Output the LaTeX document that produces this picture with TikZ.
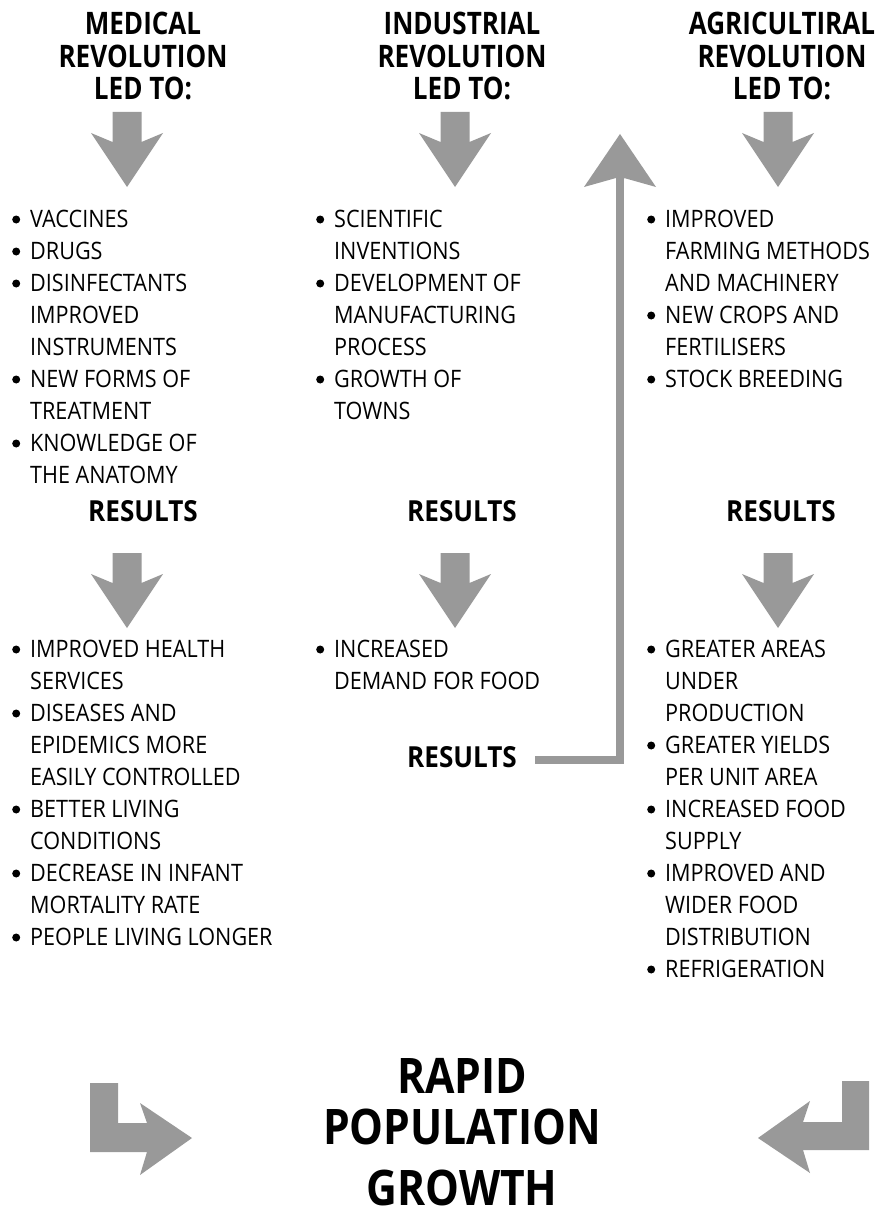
\documentclass[tikz,border=0pt]{standalone}
\usepackage{fontspec}
\setmainfont{Open Sans}
\newfontfamily\bodyfont{Open Sans}[FakeStretch=0.9]
\newfontfamily\headfont{Open Sans}[FakeStretch=0.84]
\newfontfamily\bigfont{Open Sans}[FakeStretch=0.87]
\definecolor{arrowgray}{HTML}{999999}
\newcommand\bul{\makebox[18pt][l]{\tikz[baseline=0pt,x=1pt,y=1pt]\fill[black] (4,7.5) circle[radius=4];}}
\newcommand\cnt{\hspace*{18pt}}
\tikzset{
  listtext/.style={inner sep=0pt, anchor=base west, font=\bodyfont\fontsize{24}{32}\selectfont},
  headtext/.style={inner sep=0pt, anchor=base, font=\headfont\bfseries\fontsize{31}{32}\selectfont},
  restext/.style={inner sep=0pt, anchor=base, font=\bodyfont\bfseries\fontsize{29}{32}\selectfont},
  bigtext/.style={inner sep=0pt, anchor=base, font=\bigfont\bfseries\fontsize{49}{51}\selectfont},
  blockarrow/.style={fill=arrowgray, draw=none},
  downblock/.pic={\fill[blockarrow] (-14.5,0) -- (14.5,0) -- (14.5,30) -- (36,21) -- (0,75) -- (-36,21) -- (-14.5,30) -- cycle;},
  upblockhead/.pic={\fill[blockarrow] (-4,1) -- (-4,0) -- (-36,9) -- (0,-44) -- (36,9) -- (4,0) -- (4,1) -- cycle;}
}
\begin{document}
\begin{tikzpicture}[x=1pt,y=-1pt]
\useasboundingbox (0,0) rectangle (888,1220);
\fill[white] (0,0) rectangle (888,1220);

% headers
\node[headtext] (h1) at (143,35) {\begin{tabular}[t]{@{}c@{}}MEDICAL\\REVOLUTION\\LED TO:\end{tabular}};
\node[headtext] (h2) at (462,35) {\begin{tabular}[t]{@{}c@{}}INDUSTRIAL\\REVOLUTION\\LED TO:\end{tabular}};
\node[headtext] (h3) at (782,35) {\begin{tabular}[t]{@{}c@{}}AGRICULTIRAL\\REVOLUTION\\LED TO:\end{tabular}};

% first row arrows
\pic (a1) at (127,112) {downblock};
\pic (a2) at (455,112) {downblock};
\pic (a3) at (778,112) {downblock};

% first lists
\node[listtext] (l1) at (12,227) {\begin{tabular}[t]{@{}l@{}}
\bul VACCINES\\
\bul DRUGS\\
\bul DISINFECTANTS\\
\cnt IMPROVED\\
\cnt INSTRUMENTS\\
\bul NEW FORMS OF\\
\cnt TREATMENT\\
\bul KNOWLEDGE OF\\
\cnt THE ANATOMY\end{tabular}};
\node[listtext] (l2) at (316,227) {\begin{tabular}[t]{@{}l@{}}
\bul SCIENTIFIC\\
\cnt INVENTIONS\\
\bul DEVELOPMENT OF\\
\cnt MANUFACTURING\\
\cnt PROCESS\\
\bul GROWTH OF\\
\cnt TOWNS\end{tabular}};
\node[listtext] (l3) at (647,227) {\begin{tabular}[t]{@{}l@{}}
\bul IMPROVED\\
\cnt FARMING METHODS\\
\cnt AND MACHINERY\\
\bul NEW CROPS AND\\
\cnt FERTILISERS\\
\bul STOCK BREEDING\end{tabular}};

% results
\node[restext] (r1) at (143,521) {RESULTS};
\node[restext] (r2) at (462,521) {RESULTS};
\node[restext] (r3) at (781,521) {RESULTS};

% second row arrows
\pic (b1) at (127,553) {downblock};
\pic (b2) at (455,553) {downblock};
\pic (b3) at (778,553) {downblock};

% second lists
\node[listtext] (m1) at (12,657) {\begin{tabular}[t]{@{}l@{}}
\bul IMPROVED HEALTH\\
\cnt SERVICES\\
\bul DISEASES AND\\
\cnt EPIDEMICS MORE\\
\cnt EASILY CONTROLLED\\
\bul BETTER LIVING\\
\cnt CONDITIONS\\
\bul DECREASE IN INFANT\\
\cnt MORTALITY RATE\\
\bul PEOPLE LIVING LONGER\end{tabular}};
\node[listtext] (m2) at (316,657) {\begin{tabular}[t]{@{}l@{}}
\bul INCREASED\\
\cnt DEMAND FOR FOOD\end{tabular}};
\node[listtext] (m3) at (647,657) {\begin{tabular}[t]{@{}l@{}}
\bul GREATER AREAS\\
\cnt UNDER\\
\cnt PRODUCTION\\
\bul GREATER YIELDS\\
\cnt PER UNIT AREA\\
\bul INCREASED FOOD\\
\cnt SUPPLY\\
\bul IMPROVED AND\\
\cnt WIDER FOOD\\
\cnt DISTRIBUTION\\
\bul REFRIGERATION\end{tabular}};

% lower results with connector arrow going up
\node[restext] (r4) at (462,767) {RESULTS};
\coordinate (uptop) at (620,178);
\draw[arrowgray, line width=8pt, line join=miter] ([xshift=18pt,yshift=-3pt]r4.east) -| (uptop);
\pic (uph) at (uptop) {upblockhead};

% bottom
\node[bigtext] (g1) at (462,1093) {RAPID};
\node[bigtext] (g2) at (462,1144) {POPULATION};
\node[bigtext] (g3) at (462,1205) {GROWTH};

% bent arrows
\fill[blockarrow] (90,1083) -- (118,1083) -- (118,1123) -- (147,1123) -- (140,1103) -- (192,1138) -- (140,1175) -- (147,1152) -- (90,1152) -- cycle;
\fill[blockarrow] (842,1081) -- (869,1081) -- (869,1150) -- (803,1150) -- (810,1173) -- (758,1138) -- (810,1101) -- (803,1122) -- (842,1122) -- cycle;
\end{tikzpicture}
\end{document}
